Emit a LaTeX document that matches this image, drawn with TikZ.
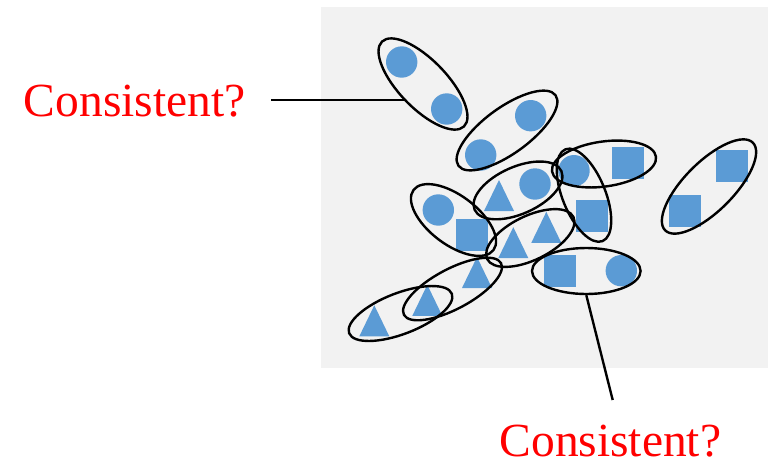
\documentclass[tikz,border=0pt]{standalone}
\usepackage{fontspec}
\setmainfont{Liberation Serif}
\usetikzlibrary{shapes.geometric}
\definecolor{shapeblue}{HTML}{5B9BD5}
\definecolor{panelgray}{HTML}{F2F2F2}
\begin{document}
\begin{tikzpicture}[x=1pt,y=-1pt,
  dot/.style={circle, fill=shapeblue, minimum size=31.4pt, inner sep=0pt},
  box/.style={rectangle, fill=shapeblue, minimum size=32pt, inner sep=0pt},
  ring/.style 2 args={ellipse, draw=black, line width=2.4pt, inner sep=0pt,
    minimum width=#1pt, minimum height=#2pt},
  link/.style={draw=black, line width=2.4pt},
  lab/.style={text=red, font=\fontsize{47.5}{47.5}\selectfont, inner sep=0pt, anchor=base west},
  tri/.pic={\fill[shapeblue] (-15,15.5) -- (0,-15.5) -- (15,15.5) -- cycle;}]
\useasboundingbox (0,0) rectangle (768,464);

% grey panel holding the samples
\fill[panelgray] (321,7) rectangle (768,368);

% circles
\node[dot] (ca1) at (401.7,62) {};
\node[dot] (ca2) at (446.7,109) {};
\node[dot] (cb1) at (530.7,115.7) {};
\node[dot] (cb2) at (480.7,155) {};
\node[dot] (cc1) at (574,170.7) {};
\node[dot] (cd1) at (438.3,210) {};
\node[dot] (ce1) at (535,184) {};
\node[dot] (cf1) at (621.3,270.7) {};

% squares
\node[box] (s1) at (628,163) {};
\node[box] (s2) at (732,165.8) {};
\node[box] (s3) at (685,210.8) {};
\node[box] (s4) at (472,235) {};
\node[box] (s5) at (592,215.8) {};
\node[box] (s6) at (560,270.8) {};

% triangles
\pic at (499,195.5) {tri};
\pic at (513.3,242.6) {tri};
\pic at (546.3,227.3) {tri};
\pic at (477,272.5) {tri};
\pic at (427.3,300.3) {tri};
\pic at (374.3,320.8) {tri};

% grouping ellipses, one per pair of neighbours
\node[ring={118}{48}, rotate=-46] (e1) at (423,84) {};
\node[ring={120}{46}, rotate=36] (e2) at (507,130.5) {};
\node[ring={105}{45}, rotate=8] (e3) at (604,164) {};
\node[ring={124}{49}, rotate=45] (e4) at (709,186.5) {};
\node[ring={100}{49}, rotate=-37] (e5) at (453.5,220) {};
\node[ring={95}{47}, rotate=24] (e6) at (518,190.4) {};
\node[ring={99}{43}, rotate=-68] (e7) at (584,195.2) {};
\node[ring={96}{44}, rotate=26] (e8) at (530.3,238) {};
\node[ring={108.6}{46}] (e9) at (586.3,271) {};
\node[ring={110}{41}, rotate=21] (e10) at (400.5,313.5) {};
\node[ring={110}{40}, rotate=28] (e11) at (452.5,289) {};

% questions and their leaders
\node[lab] (q1) at (23.7,116.5) {Consistent?};
\node[lab] (q2) at (499.4,456) {Consistent?};
\coordinate (q1end) at (271,100);
\coordinate (q2end) at (612.7,400);
\draw[link] (q1end) -- (q1end -| e1.south);
\draw[link] (e9.south) -- (q2end);
\end{tikzpicture}
\end{document}
